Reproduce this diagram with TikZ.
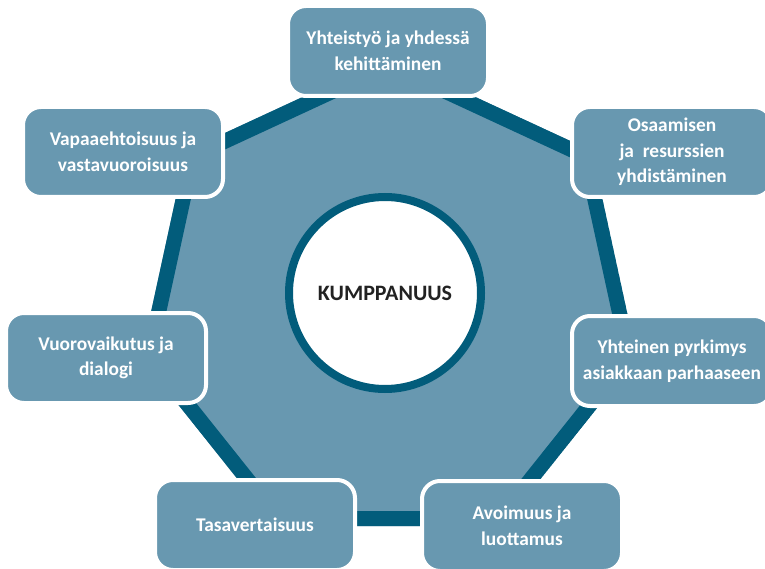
\documentclass[tikz,border=0pt]{standalone}
\usepackage{fontspec}
\setmainfont{Carlito}
\definecolor{hfill}{HTML}{6898B0}
\definecolor{hdark}{HTML}{025C7B}
\definecolor{ctext}{HTML}{222222}
\begin{document}
\begin{tikzpicture}[x=1pt,y=-1pt,
  item/.style={draw=white, line width=4pt, fill=hfill, rounded corners=18pt,
    minimum width=200pt, minimum height=90pt, text=white,
    font=\fontsize{19.4}{25.5}\selectfont\bfseries, align=center, inner sep=0pt},
  hub/.style={circle, draw=hdark, line width=8pt, fill=white, minimum size=192pt,
    text=ctext, font=\fontsize{22}{26}\selectfont\bfseries, inner sep=0pt}]
\useasboundingbox (0,0) rectangle (765,569);
\coordinate (v0) at (389,57);
\coordinate (v1) at (186,151);
\coordinate (v2) at (141,358);
\coordinate (v3) at (275,526);
\coordinate (v4) at (503,526);
\coordinate (v5) at (637,358);
\coordinate (v6) at (592,151);
\begin{scope}
  \clip (v0)--(v1)--(v2)--(v3)--(v4)--(v5)--(v6)--cycle;
  \fill[hfill] (v0)--(v1)--(v2)--(v3)--(v4)--(v5)--(v6)--cycle;
  \draw[hdark, line width=30pt, line join=miter] (v0)--(v1)--(v2)--(v3)--(v4)--(v5)--(v6)--cycle;
\end{scope}
\node[item] (top) at (388,51) {Yhteistyö ja yhdessä\\kehittäminen};
\node[item] (ur) at (672,152) {Osaamisen\\ja~~resurssien\\yhdistäminen};
\node[item] (ul) at (123,152) {Vapaaehtoisuus ja\\vastavuoroisuus};
\node[item] (rm) at (672,361) {Yhteinen pyrkimys\\asiakkaan parhaaseen};
\node[item] (lm) at (106,358) {Vuorovaikutus ja\\dialogi};
\node[item] (bl) at (255,525) {Tasavertaisuus};
\node[item] (br) at (522,526) {Avoimuus ja\\luottamus};
\node[hub] (hub) at (385,293) {KUMPPANUUS};
\end{tikzpicture}
\end{document}
